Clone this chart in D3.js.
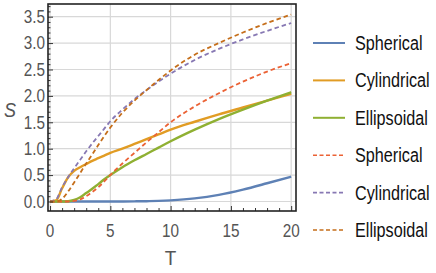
<!DOCTYPE html>
<html>
<head>
<meta charset="utf-8">
<script src="https://cdn.jsdelivr.net/npm/d3@7"></script>
<style>
  body { margin: 0; background: #fff; }
  .tick-label { font-family: "Liberation Sans", Arial, sans-serif; fill: #555; }
  .legend-text { font-family: "Liberation Sans", Arial, sans-serif; fill: #111; }
</style>
</head>
<body>
<div class="chart"></div>
<script>
// time values
var T = [0, 0.5, 1, 1.5, 2, 2.5, 3, 3.5, 4, 4.5, 5, 6, 7, 8, 9, 10, 12, 14, 16, 18, 20];

// solid series
var sphericalSolid   = [0, 0, 0, 0, 0, 0, 0, 0, 0, 0, 0, 0.001, 0.003, 0.006, 0.012, 0.022, 0.058, 0.125, 0.225, 0.345, 0.47];
var cylindricalSolid = [0, 0.02, 0.25, 0.46, 0.58, 0.65, 0.71, 0.77, 0.82, 0.87, 0.92, 1.0, 1.09, 1.18, 1.27, 1.36, 1.51, 1.65, 1.78, 1.91, 2.04];
var ellipsoidalSolid = [0, 0, 0, 0.005, 0.03, 0.08, 0.16, 0.24, 0.33, 0.42, 0.5, 0.65, 0.78, 0.9, 1.02, 1.14, 1.36, 1.56, 1.74, 1.91, 2.07];

// dashed series
var sphericalDashed   = [0, 0, 0, 0, 0.01, 0.04, 0.1, 0.18, 0.27, 0.38, 0.5, 0.72, 0.92, 1.12, 1.31, 1.5, 1.8, 2.05, 2.27, 2.46, 2.62];
var cylindricalDashed = [0, 0.04, 0.27, 0.46, 0.63, 0.79, 0.95, 1.1, 1.24, 1.38, 1.52, 1.74, 1.94, 2.11, 2.27, 2.42, 2.68, 2.89, 3.07, 3.23, 3.38];
var ellipsoidalDashed = [0, 0, 0.05, 0.19, 0.36, 0.54, 0.72, 0.89, 1.07, 1.24, 1.4, 1.68, 1.91, 2.11, 2.3, 2.48, 2.78, 3.0, 3.2, 3.38, 3.54];

var xTicks = [0, 5, 10, 15, 20];
var yTicks = [0, 0.5, 1, 1.5, 2, 2.5, 3, 3.5];

var seriesNames = ["Spherical", "Cylindrical", "Ellipsoidal", "Spherical", "Cylindrical", "Ellipsoidal"];
var seriesColors = ["#5E81B5", "#E19C24", "#8FB032", "#EB6235", "#8778B3", "#C56E1A"];
var seriesData = [sphericalSolid, cylindricalSolid, ellipsoidalSolid, sphericalDashed, cylindricalDashed, ellipsoidalDashed];

var svgWidth = 436, svgHeight = 273;
var margin = { top: 4, left: 48, right: 140, bottom: 62 };
var width = svgWidth - margin.left - margin.right;   // 248
var height = svgHeight - margin.top - margin.bottom; // 207

var svg = d3.select(".chart").append("svg")
  .attr("width", svgWidth)
  .attr("height", svgHeight);

var chartGroup = svg.append("g")
  .attr("transform", `translate(${margin.left}, ${margin.top})`);

var xScale = d3.scaleLinear().domain([-0.17, 20.4]).range([0, width]);
var yScale = d3.scaleLinear().domain([-0.18, 3.74]).range([height, 0]);

// grid lines
chartGroup.selectAll(".xgrid").data(xTicks).enter().append("line")
  .attr("x1", d => xScale(d)).attr("x2", d => xScale(d))
  .attr("y1", 0).attr("y2", height)
  .attr("stroke", "#d8d8d8").attr("stroke-width", 1.2);
chartGroup.selectAll(".ygrid").data(yTicks).enter().append("line")
  .attr("x1", 0).attr("x2", width)
  .attr("y1", d => yScale(d)).attr("y2", d => yScale(d))
  .attr("stroke", "#d8d8d8").attr("stroke-width", 1.2);

// lines
var line = d3.line()
  .x((d, i) => xScale(T[i]))
  .y(d => yScale(d))
  .curve(d3.curveMonotoneX);

chartGroup.append("clipPath").attr("id", "clip")
  .append("rect").attr("width", width).attr("height", height);

seriesData.forEach(function(vals, k) {
  chartGroup.append("path")
    .datum(vals)
    .attr("d", line)
    .attr("fill", "none")
    .attr("stroke", seriesColors[k])
    .attr("stroke-width", k < 3 ? 2.4 : 1.8)
    .attr("stroke-dasharray", k < 3 ? null : "4.5,3")
    .attr("clip-path", "url(#clip)");
});

// axes: small ticks inside the frame
var xAxis = d3.axisBottom(xScale).tickValues(d3.range(0, 21, 1)).tickSize(-3).tickFormat("");
var yAxis = d3.axisLeft(yScale).tickValues(d3.range(0, 3.75, 0.1)).tickSize(-2.5).tickFormat("");

chartGroup.append("g").attr("transform", `translate(0, ${height})`).call(xAxis)
  .call(g => g.select(".domain").remove())
  .selectAll("line").attr("stroke", "#333").attr("stroke-width", 1)
  .attr("y2", d => d % 5 === 0 ? -5 : -3);
chartGroup.append("g").call(yAxis)
  .call(g => g.select(".domain").remove())
  .selectAll("line").attr("stroke", "#333").attr("stroke-width", 1)
  .attr("x2", (d, i) => i % 5 === 0 ? 5 : 2.5);

// frame
chartGroup.append("rect")
  .attr("width", width).attr("height", height)
  .attr("fill", "none").attr("stroke", "#222").attr("stroke-width", 1.6);

// narrow-looking text: scale the glyphs horizontally
function narrowText(parent, x, y, txt, size, sx, anchor, cls) {
  return parent.append("text")
    .attr("class", cls)
    .attr("transform", `translate(${x}, ${y}) scale(${sx}, 1)`)
    .attr("text-anchor", anchor)
    .attr("dy", "0.35em")
    .style("font-size", size + "px")
    .text(txt);
}

// tick labels
xTicks.forEach(function(d) {
  narrowText(chartGroup, xScale(d), height + 20, d, 18, 0.85, "middle", "tick-label");
});
yTicks.forEach(function(d) {
  narrowText(chartGroup, -3, yScale(d), d.toFixed(1), 18, 0.85, "end", "tick-label");
});

// axis labels
narrowText(chartGroup, xScale(10), height + 47, "T", 21, 0.9, "middle", "tick-label");
narrowText(svg, 10, 110, "S", 20, 0.9, "middle", "tick-label")
  .style("font-style", "italic");

// legend
var legend = svg.append("g").attr("transform", "translate(313, 43)");
seriesNames.forEach(function(name, k) {
  var row = legend.append("g").attr("transform", `translate(0, ${k * 37.4})`);
  row.append("line")
    .attr("x1", 0).attr("x2", 32).attr("y1", 0).attr("y2", 0)
    .attr("stroke", seriesColors[k])
    .attr("stroke-width", k < 3 ? 2 : 1.6)
    .attr("stroke-dasharray", k < 3 ? null : "4,2.5");
  narrowText(row, 42, 0, name, 20, 0.81, "start", "legend-text");
});
</script>
</body>
</html>
